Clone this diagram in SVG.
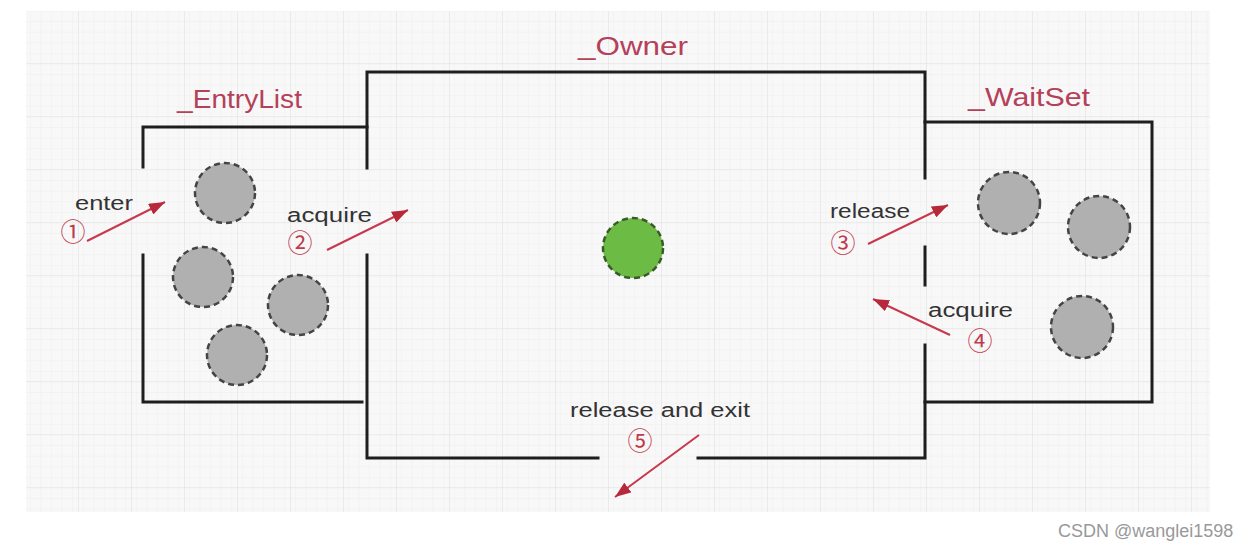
<svg xmlns="http://www.w3.org/2000/svg" width="1258" height="556" viewBox="0 0 1258 556">
<defs>
<pattern id="minor" width="10.6" height="10.6" patternUnits="userSpaceOnUse" x="26" y="11">
<path d="M10.6 0V10.6H0" fill="none" stroke="#eeeeee" stroke-width="1"/>
</pattern>
<pattern id="major" width="53" height="53" patternUnits="userSpaceOnUse" x="26" y="11">
<rect width="53" height="53" fill="url(#minor)"/>
<path d="M53 0V53H0" fill="none" stroke="#e2e2e2" stroke-width="1.2"/>
</pattern>
<marker id="arrow" viewBox="0 0 16 12" refX="16" refY="6" markerWidth="16" markerHeight="12" orient="auto" markerUnits="userSpaceOnUse">
<path d="M0 0L16 6L0 12z" fill="#b8283b"/>
</marker>
</defs>
<style>
.wall{fill:none;stroke:#1e1e1e;stroke-width:3;stroke-linecap:square}
.ball{fill:#b0b0b0;stroke:#444;stroke-width:2.5;stroke-dasharray:6 4}
.green{fill:#6cbb45;stroke:#3a5a2a;stroke-width:2.5;stroke-dasharray:6 4}
.title{font-family:"Liberation Sans",Arial,sans-serif;font-size:25px;fill:#b5405a}
.lbl{font-family:"Liberation Sans",Arial,sans-serif;font-size:20px;fill:#333}
.num{font-family:"Noto Sans CJK SC","DejaVu Sans",sans-serif;font-size:25px;fill:#c03a4c}
.conn{stroke:#c8384c;stroke-width:2;fill:none;marker-end:url(#arrow)}
.wm{font-family:"Liberation Sans",Arial,sans-serif;font-size:18px;fill:#999}
</style>
<rect x="0" y="0" width="1258" height="556" fill="#ffffff"/>
<rect x="26" y="11" width="1184" height="501" fill="#f8f8f8"/>
<rect x="26" y="11" width="1184" height="501" fill="url(#major)"/>

<g id="entrylist">
<path class="wall" d="M143 167V127H367"/>
<path class="wall" d="M143 255V402H362"/>
<text class="title" x="177" y="108" textLength="125" lengthAdjust="spacingAndGlyphs">_EntryList</text>
<circle class="ball" cx="225" cy="193" r="30"/>
<circle class="ball" cx="203" cy="277" r="30"/>
<circle class="ball" cx="298" cy="305" r="30"/>
<circle class="ball" cx="237" cy="355" r="30"/>
</g>

<g id="owner">
<path class="wall" d="M367 168V72H925V178"/>
<path class="wall" d="M367 255V458H598"/>
<path class="wall" d="M698 458H925V345"/>
<path class="wall" d="M925 247V285"/>
<text class="title" x="578" y="55" textLength="110" lengthAdjust="spacingAndGlyphs">_Owner</text>
<circle class="green" cx="633" cy="248" r="30"/>
</g>

<g id="waitset">
<path class="wall" d="M925 122H1152V402H925"/>
<text class="title" x="968" y="106" textLength="122" lengthAdjust="spacingAndGlyphs">_WaitSet</text>
<circle class="ball" cx="1009" cy="203" r="31"/>
<circle class="ball" cx="1099" cy="227" r="31"/>
<circle class="ball" cx="1082" cy="327" r="31"/>
</g>

<g id="connectors">
<line class="conn" x1="87" y1="241" x2="165" y2="202"/>
<line class="conn" x1="327" y1="250" x2="408" y2="210"/>
<line class="conn" x1="868" y1="244" x2="948" y2="205"/>
<line class="conn" x1="950" y1="335" x2="873" y2="299"/>
<line class="conn" x1="699" y1="435" x2="615" y2="497"/>
</g>

<g id="labels">
<text class="lbl" x="75" y="210" textLength="58" lengthAdjust="spacingAndGlyphs">enter</text>
<text class="num" x="73" y="241" text-anchor="middle">①</text>
<text class="lbl" x="287" y="222" textLength="85" lengthAdjust="spacingAndGlyphs">acquire</text>
<text class="num" x="300" y="252" text-anchor="middle">②</text>
<text class="lbl" x="830" y="218" textLength="80" lengthAdjust="spacingAndGlyphs">release</text>
<text class="num" x="843" y="252" text-anchor="middle">③</text>
<text class="lbl" x="928" y="317" textLength="85" lengthAdjust="spacingAndGlyphs">acquire</text>
<text class="num" x="980" y="350" text-anchor="middle">④</text>
<text class="lbl" x="570" y="417" textLength="180" lengthAdjust="spacingAndGlyphs">release and exit</text>
<text class="num" x="640" y="450" text-anchor="middle">⑤</text>
</g>

<text class="wm" x="1058" y="537">CSDN @wanglei1598</text>
</svg>
